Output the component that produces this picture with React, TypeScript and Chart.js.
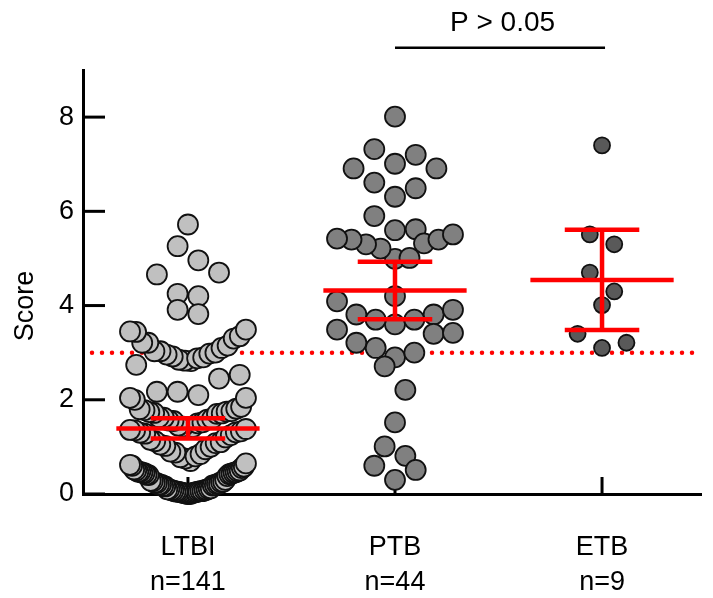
import { useEffect, useRef } from "react";
import { Chart, registerables } from "chart.js";

Chart.register(...registerables);

const CATEGORIES = ["LTBI", "PTB", "ETB"];
const COUNTS = ["n=141", "n=44", "n=9"];

const LTBI_SCORES = [
  5.72, 5.26, 4.96, 4.7, 4.66, 4.25, 4.2, 3.91, 3.82,
  3.49, 3.45, 3.44, 3.3, 3.35,
  3.21, 3.21, 3.15, 3.1, 3.03, 3.03, 2.98, 2.96, 2.92, 2.9, 2.85, 2.83, 2.88, 3.0,
  2.82, 2.74, 2.53, 2.45,
  2.17, 2.17, 2.04, 2.04, 2.0, 2.1,
  1.85, 1.81, 1.8, 1.75, 1.72, 1.7, 1.78, 1.74, 1.76, 1.71,
  1.62, 1.6, 1.58, 1.55, 1.52, 1.5, 1.56, 1.63,
  1.45, 1.42, 1.4, 1.38, 1.35, 1.33, 1.3, 1.28, 1.25, 1.36, 1.31, 1.43,
  1.2, 1.15, 1.1, 1.05, 1.02, 1.0, 1.08, 1.12,
  0.95, 0.9, 0.85, 0.8, 0.75, 0.7, 0.88, 0.78,
  0.65, 0.6, 0.55, 0.5, 0.5, 0.52, 0.62, 0.58,
  0.48, 0.47, 0.46, 0.45, 0.44, 0.43, 0.42, 0.4, 0.38, 0.45, 0.47, 0.41,
  0.3, 0.28, 0.25, 0.22, 0.2, 0.2, 0.18, 0.16, 0.27, 0.24, 0.21, 0.19, 0.23, 0.26, 0.17,
  0.12, 0.1, 0.08, 0.06, 0.05, 0.04, 0.03, 0.02, 0.0, 0.1, 0.07, 0.05, 0.09, 0.11, 0.01,
  0.06, 0.03, 0.08, 0.04, 0.02, 0.0, 0.05,
];

const PTB_SCORES = [
  8.01, 7.32, 7.2, 7.01, 6.91, 6.91, 6.49, 6.61, 6.31, 5.9,
  5.6, 5.62, 5.4, 5.42, 5.32, 5.51, 5.4, 5.3, 5.21, 5.01,
  4.99, 4.09, 4.2, 3.81, 3.7, 3.6, 3.7, 3.81, 3.91, 3.42,
  3.21, 3.0, 2.9, 3.1, 3.4, 3.49, 2.71, 2.21, 1.52, 1.01,
  0.81, 0.6, 0.51, 0.3,
];

const ETB_SCORES = [7.4, 5.51, 5.3, 4.7, 4.3, 4.01, 3.4, 3.1, 3.21];

const MEANS = [1.39, 4.32, 4.54];
const CI_LOW = [1.18, 3.71, 3.48];
const CI_HIGH = [1.61, 4.93, 5.61];

const Y_TICKS = [0, 2, 4, 6, 8];
const CUTOFF = 3;
const P_LABEL = "P > 0.05";
const SIG_FROM = 1;
const SIG_TO = 2;
const SIG_Y = 9.47;

const FILLS = ["#c0c0c0", "#808080", "#595959"];
const RADII = [10, 10, 8];
const STEPS = [0.1, 0.1, 0.118];
const FONT = "'Liberation Sans', Arial, Helvetica, sans-serif";

// Prism-like row swarm: values grouped into rows, lowest value of a row at the
// centre, higher ones alternating outwards (gives the typical "smile" rows).
function swarm(values: number[], center: number, step: number) {
  const ROW_H = 0.7;
  const MAX_HALF = 0.28;
  const rows = new Map<number, number[]>();
  values.forEach((v) => {
    const k = Math.floor(v / ROW_H + 1e-9);
    if (!rows.has(k)) rows.set(k, []);
    rows.get(k)!.push(v);
  });
  const pts: { x: number; y: number }[] = [];
  rows.forEach((row) => {
    const sorted = [...row].sort((a, b) => a - b);
    const n = sorted.length;
    const sp = n > 1 ? Math.min(step, (2 * MAX_HALF) / (n - 1)) : 0;
    const slots: number[] = [];
    for (let k = 0; k < n; k++) slots.push((k - (n - 1) / 2) * sp);
    const order = slots
      .map((s, i) => ({ s, i }))
      .sort((a, b) => Math.abs(a.s) - Math.abs(b.s) || a.s - b.s);
    const ordered: number[] = [];
    let flip = false;
    for (let i = 0; i < order.length; i++) {
      if (i + 1 < order.length && Math.abs(Math.abs(order[i].s) - Math.abs(order[i + 1].s)) < 1e-9) {
        const a = order[i].s, b = order[i + 1].s;
        const pos = Math.max(a, b), neg = Math.min(a, b);
        if (flip) { ordered.push(neg, pos); } else { ordered.push(pos, neg); }
        flip = !flip;
        i++;
      } else {
        ordered.push(order[i].s);
      }
    }
    sorted.forEach((v, i) => pts.push({ x: center + ordered[i], y: v }));
  });
  return pts;
}

const overlay = {
  id: "overlay",
  beforeDatasetsDraw(chart: any) {
    const { ctx, chartArea: a, scales } = chart;
    const x = scales.x, y = scales.y;
    ctx.save();
    ctx.strokeStyle = "#000";
    ctx.lineWidth = 3;
    ctx.lineCap = "butt";
    Y_TICKS.forEach((v) => {
      const py = y.getPixelForValue(v);
      ctx.beginPath();
      ctx.moveTo(a.left, py);
      ctx.lineTo(a.left + 22, py);
      ctx.stroke();
    });
    CATEGORIES.forEach((_, i) => {
      const px = x.getPixelForValue(i);
      ctx.beginPath();
      ctx.moveTo(px, a.bottom);
      ctx.lineTo(px, a.bottom - 17);
      ctx.stroke();
    });
    ctx.strokeStyle = "#ff0000";
    ctx.lineWidth = 4.5;
    ctx.lineCap = "round";
    ctx.setLineDash([0, 10]);
    const cy = y.getPixelForValue(CUTOFF);
    ctx.beginPath();
    ctx.moveTo(a.left + 9, cy);
    ctx.lineTo(a.right, cy);
    ctx.stroke();
    ctx.restore();
  },
  afterDatasetsDraw(chart: any) {
    const { ctx, scales } = chart;
    const x = scales.x, y = scales.y;
    ctx.save();
    ctx.strokeStyle = "#ff0000";
    ctx.lineWidth = 4.5;
    ctx.lineCap = "butt";
    MEANS.forEach((m, i) => {
      const pm = y.getPixelForValue(m);
      const pl = y.getPixelForValue(CI_LOW[i]);
      const ph = y.getPixelForValue(CI_HIGH[i]);
      const cx = x.getPixelForValue(i);
      const mw = x.getPixelForValue(i + 0.346) - cx;
      const cw = x.getPixelForValue(i + 0.18) - cx;
      ctx.beginPath();
      ctx.moveTo(cx - mw, pm);
      ctx.lineTo(cx + mw, pm);
      ctx.moveTo(cx - cw, pl);
      ctx.lineTo(cx + cw, pl);
      ctx.moveTo(cx - cw, ph);
      ctx.lineTo(cx + cw, ph);
      ctx.moveTo(cx, pl);
      ctx.lineTo(cx, ph);
      ctx.stroke();
    });
    ctx.restore();
  },
  afterDraw(chart: any) {
    const { ctx, chartArea: a, scales } = chart;
    const x = scales.x, y = scales.y;
    ctx.save();
    ctx.fillStyle = "#000";
    ctx.textAlign = "center";
    ctx.textBaseline = "middle";
    ctx.font = `27px ${FONT}`;
    CATEGORIES.forEach((c, i) => {
      const px = x.getPixelForValue(i);
      ctx.fillText(c, px, a.bottom + 54);
      ctx.fillText(COUNTS[i], px, a.bottom + 89);
    });
    ctx.save();
    ctx.translate(a.left - 57, (a.top + a.bottom) / 2 + 24);
    ctx.rotate(-Math.PI / 2);
    ctx.font = `27px ${FONT}`;
    ctx.fillText("Score", 0, 0);
    ctx.restore();
    const sy = y.getPixelForValue(SIG_Y);
    const x1 = x.getPixelForValue(SIG_FROM);
    const x2 = x.getPixelForValue(SIG_TO);
    ctx.strokeStyle = "#000";
    ctx.lineWidth = 2.5;
    ctx.beginPath();
    ctx.moveTo(x1, sy);
    ctx.lineTo(x2 + 3, sy);
    ctx.stroke();
    ctx.font = `28px ${FONT}`;
    ctx.textBaseline = "alphabetic";
    ctx.fillText(P_LABEL, (x1 + x2) / 2 + 4, sy - 17);
    ctx.restore();
  },
};

export default function App() {
  const ref = useRef<HTMLCanvasElement | null>(null);
  useEffect(() => {
    if (!ref.current) return;
    const groups = [LTBI_SCORES, PTB_SCORES, ETB_SCORES];
    const chart = new Chart(ref.current, {
      type: "scatter",
      data: {
        datasets: groups.map((vals, i) => ({
          label: CATEGORIES[i],
          data: swarm(vals, i, STEPS[i]),
          backgroundColor: FILLS[i],
          borderColor: "#111111",
          borderWidth: 1.8,
          pointRadius: RADII[i],
          pointHoverRadius: RADII[i],
          clip: false as any,
        })),
      },
      options: {
        animation: false,
        responsive: false,
        events: [],
        layout: { padding: { top: 70, right: 0, left: 0, bottom: 0 } },
        plugins: { legend: { display: false }, tooltip: { enabled: false } },
        scales: {
          x: {
            type: "linear",
            min: -0.507,
            max: 2.479,
            grid: { display: false, drawTicks: false },
            border: { display: true, color: "#000", width: 3 },
            ticks: { display: false },
            afterFit: (s: any) => { s.height = 104; },
          },
          y: {
            type: "linear",
            min: 0,
            max: 9,
            grid: { display: false, drawTicks: false },
            border: { display: true, color: "#000", width: 3 },
            ticks: {
              color: "#000",
              padding: 9,
              font: { size: 27, family: FONT },
            },
            afterBuildTicks: (s: any) => { s.ticks = Y_TICKS.map((v) => ({ value: v })); },
            afterFit: (s: any) => { s.width = 83; },
          },
        },
      },
      plugins: [overlay],
    });
    return () => chart.destroy();
  }, []);
  return (
    <div style={{ position: "absolute", left: 0, top: 0, width: 713, height: 598, background: "#fff" }}>
      <canvas ref={ref} width={713} height={598} />
    </div>
  );
}
